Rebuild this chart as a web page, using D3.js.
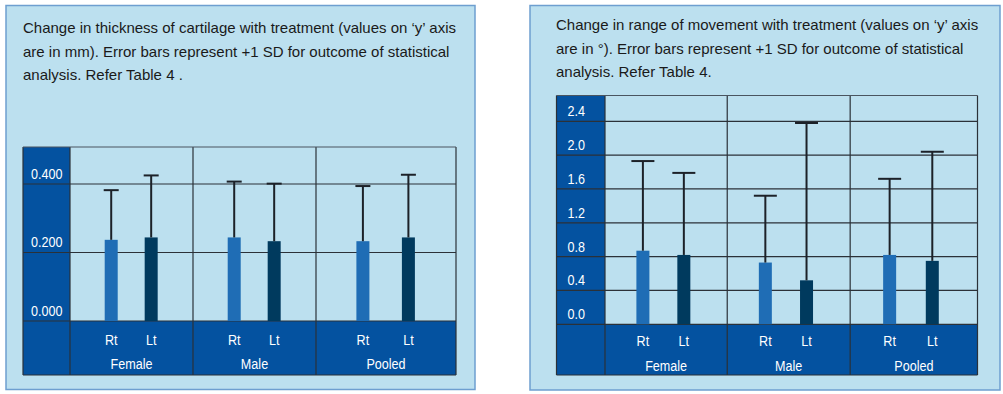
<!DOCTYPE html>
<html>
<head>
<meta charset="utf-8">
<script src="https://cdn.jsdelivr.net/npm/d3@7"></script>
<style>
  body { margin: 0; background: #ffffff; }
  svg { display: block; font-family: "Liberation Sans", Arial, sans-serif; }
</style>
</head>
<body>
<svg id="chart" width="1003" height="394"></svg>
<script>
// groups and sides
const groups = ['Female', 'Male', 'Pooled'];
const sides = ['Rt', 'Lt'];

// cartilage thickness (mm): mean and +1 SD
const thickRtMean = [0.237, 0.244, 0.233];
const thickLtMean = [0.244, 0.233, 0.244];
const thickRtSD = [0.145, 0.163, 0.161];
const thickLtSD = [0.181, 0.168, 0.183];
const thickTicks = [0, 0.2, 0.4];
const thickTitle = [
    'Change in thickness of cartilage with treatment (values on \u2018y\u2019 axis',
    'are in mm). Error bars represent +1 SD for outcome of statistical',
    'analysis. Refer Table 4 .'
];

// range of movement (degrees): mean and +1 SD
const romRtMean = [0.87, 0.73, 0.82];
const romLtMean = [0.82, 0.52, 0.75];
const romRtSD = [1.06, 0.79, 0.90];
const romLtSD = [0.97, 1.86, 1.29];
const romTicks = [0, 0.4, 0.8, 1.2, 1.6, 2.0, 2.4];
const romTitle = [
    'Change in range of movement with treatment (values on \u2018y\u2019 axis',
    'are in \u00b0). Error bars represent +1 SD for outcome of statistical',
    'analysis. Refer Table 4.'
];

const BG = '#bce0ef';
const BAND = '#0452a0';
const GRID = '#2b3138';
const sideColor = { Rt: '#1f6db5', Lt: '#003a5e' };
const NARROW = 0.84; // labels in the table use a condensed face

const svg = d3.select('#chart');

function rows(rtMean, ltMean, rtSD, ltSD) {
    const out = [];
    groups.forEach((g, i) => {
        out.push({ group: g, side: 'Rt', mean: rtMean[i], sd: rtSD[i] });
        out.push({ group: g, side: 'Lt', mean: ltMean[i], sd: ltSD[i] });
    });
    return out;
}

// white condensed label at (x, y)
function narrowText(sel, xf, yf) {
    return sel
        .attr('transform', (d, i) => `translate(${xf(d, i)},${yf(d, i)}) scale(${NARROW},1)`)
        .attr('fill', '#ffffff')
        .attr('font-size', '15px');
}

function drawPanel(opt) {
    const g = svg.append('g');

    // panel box
    g.append('rect')
        .attr('x', opt.box[0]).attr('y', opt.box[1])
        .attr('width', opt.box[2]).attr('height', opt.box[3])
        .attr('fill', BG)
        .attr('stroke', '#6e9fd0')
        .attr('stroke-width', 1.5);

    // title
    g.selectAll('text.title')
        .data(opt.title)
        .join('text')
        .attr('class', 'title')
        .attr('x', opt.titleX)
        .attr('y', (d, i) => opt.titleY + i * 23.7)
        .attr('font-size', '15px')
        .attr('fill', '#1a1a1a')
        .text(d => d);

    const t = opt.table;
    const y = d3.scaleLinear().domain([0, opt.yMax]).range([t.base, t.top]);

    // group boundaries from relative widths
    const cum = [0];
    opt.groupWeights.forEach(w => cum.push(cum[cum.length - 1] + w));
    const gx = d3.scaleLinear().domain([0, cum[cum.length - 1]]).range([t.axisRight, t.right]);
    const groupStart = {}, groupEnd = {};
    groups.forEach((name, i) => { groupStart[name] = gx(cum[i]); groupEnd[name] = gx(cum[i + 1]); });
    const barX = d => {
        const s = groupStart[d.group], e = groupEnd[d.group];
        return s + (e - s) * opt.sidePos[sides.indexOf(d.side)];
    };

    // axis column and bottom band
    g.append('rect')
        .attr('x', t.left).attr('y', t.top)
        .attr('width', t.axisRight - t.left).attr('height', t.bottom - t.top)
        .attr('fill', BAND);
    g.append('rect')
        .attr('x', t.left).attr('y', t.base)
        .attr('width', t.right - t.left).attr('height', t.bottom - t.base)
        .attr('fill', BAND);

    // horizontal grid lines
    g.selectAll('line.hgrid')
        .data(opt.ticks)
        .join('line')
        .attr('class', 'hgrid')
        .attr('x1', t.left).attr('x2', t.right)
        .attr('y1', d => y(d)).attr('y2', d => y(d))
        .attr('stroke', GRID)
        .attr('stroke-width', 1.2);

    // vertical dividers
    const vlines = [t.left, t.axisRight].concat(groups.map(n => groupEnd[n]));
    g.selectAll('line.vgrid')
        .data(vlines)
        .join('line')
        .attr('class', 'vgrid')
        .attr('x1', d => d).attr('x2', d => d)
        .attr('y1', t.top).attr('y2', t.bottom)
        .attr('stroke', GRID)
        .attr('stroke-width', 1.2);

    // top and bottom borders
    g.append('line')
        .attr('x1', t.left).attr('x2', t.right)
        .attr('y1', t.top).attr('y2', t.top)
        .attr('stroke', '#4a5560').attr('stroke-width', 1.2);
    g.append('line')
        .attr('x1', t.left).attr('x2', t.right)
        .attr('y1', t.bottom).attr('y2', t.bottom)
        .attr('stroke', GRID).attr('stroke-width', 1.2);

    // tick labels (sit just above their line)
    g.selectAll('text.tick')
        .data(opt.ticks)
        .join('text')
        .attr('class', 'tick')
        .call(narrowText, () => t.left + opt.tickPad, d => y(d) - 5)
        .text(d => d3.format(opt.tickFormat)(d));

    const data = rows(opt.rtMean, opt.ltMean, opt.rtSD, opt.ltSD);
    const bw = 13;

    // bars
    g.selectAll('rect.bar')
        .data(data)
        .join('rect')
        .attr('class', 'bar')
        .attr('x', d => barX(d) - bw / 2)
        .attr('y', d => y(d.mean))
        .attr('width', bw)
        .attr('height', d => y(0) - y(d.mean))
        .attr('fill', d => sideColor[d.side]);

    // error bars
    g.selectAll('line.err')
        .data(data)
        .join('line')
        .attr('class', 'err')
        .attr('x1', d => barX(d)).attr('x2', d => barX(d))
        .attr('y1', d => y(d.mean)).attr('y2', d => y(d.mean + d.sd))
        .attr('stroke', '#1c2128')
        .attr('stroke-width', 2);
    g.selectAll('line.cap')
        .data(data)
        .join('line')
        .attr('class', 'cap')
        .attr('x1', d => barX(d) - opt.capW / 2).attr('x2', d => barX(d) + opt.capW / 2)
        .attr('y1', d => y(d.mean + d.sd)).attr('y2', d => y(d.mean + d.sd))
        .attr('stroke', '#1c2128')
        .attr('stroke-width', 2);

    // Rt / Lt labels
    g.selectAll('text.side')
        .data(data)
        .join('text')
        .attr('class', 'side')
        .attr('text-anchor', 'middle')
        .call(narrowText, d => barX(d), () => opt.sideY)
        .text(d => d.side);

    // group labels
    g.selectAll('text.group')
        .data(groups)
        .join('text')
        .attr('class', 'group')
        .attr('text-anchor', 'middle')
        .call(narrowText, d => (groupStart[d] + groupEnd[d]) / 2, () => opt.groupY)
        .text(d => d);
}

drawPanel({
    box: [6, 5.5, 469, 384],
    title: thickTitle,
    titleX: 23, titleY: 33,
    table: { left: 23, axisRight: 70, right: 456, top: 147, base: 321, bottom: 375 },
    groupWeights: [123, 123, 140],
    sidePos: [0.335, 0.66],
    yMax: 0.508,
    ticks: thickTicks,
    tickFormat: '.3f',
    tickPad: 8,
    capW: 15,
    rtMean: thickRtMean, ltMean: thickLtMean, rtSD: thickRtSD, ltSD: thickLtSD,
    sideY: 344.5, groupY: 368.5
});

drawPanel({
    box: [530, 5.5, 470, 384.5],
    title: romTitle,
    titleX: 556, titleY: 30,
    table: { left: 556.5, axisRight: 605, right: 977.5, top: 95.5, base: 324.3, bottom: 375 },
    groupWeights: [122.3, 123, 127.4],
    sidePos: [0.31, 0.645],
    yMax: 2.705,
    ticks: romTicks,
    tickFormat: '.1f',
    tickPad: 11,
    capW: 23,
    rtMean: romRtMean, ltMean: romLtMean, rtSD: romRtSD, ltSD: romLtSD,
    sideY: 346, groupY: 370.5
});
</script>
</body>
</html>
